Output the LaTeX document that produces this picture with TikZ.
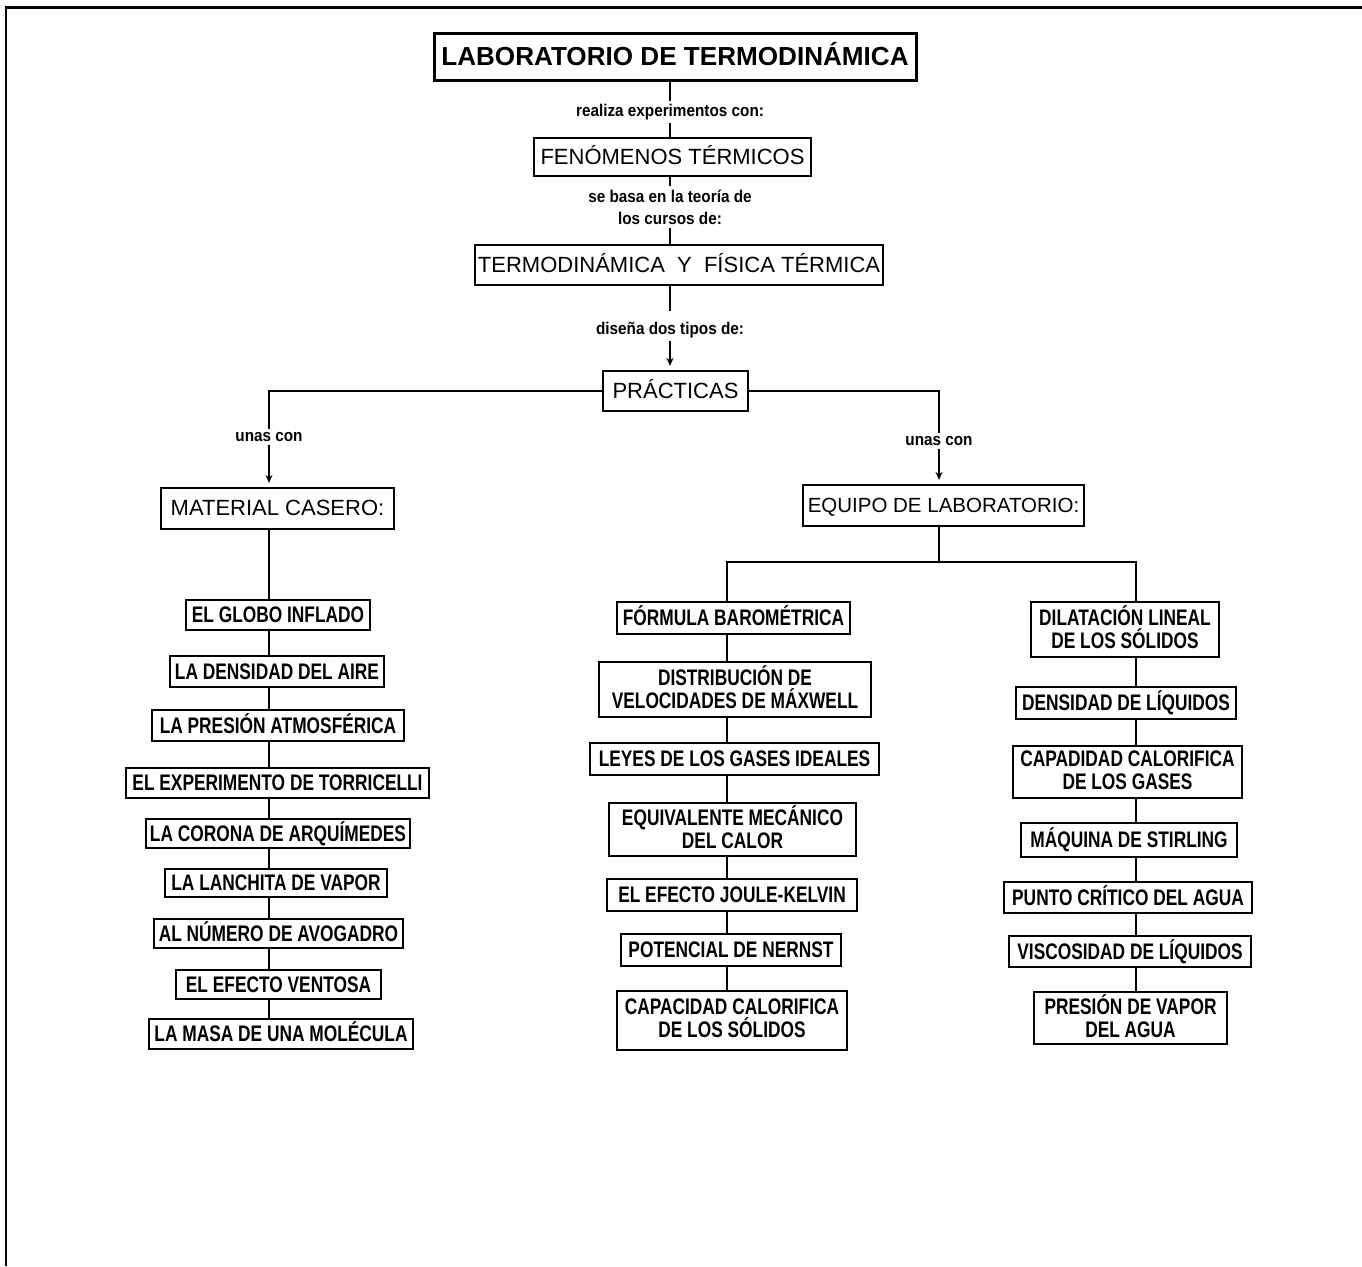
\documentclass[tikz,border=0pt]{standalone}
\usepackage{fontspec}
\setmainfont{Liberation Sans}
\newfontfamily\leaffont{Liberation Sans}[FakeStretch=0.77]
\newfontfamily\tagfont{Liberation Sans}[FakeStretch=0.9]
\usetikzlibrary{arrows.meta}

\begin{document}
\begin{tikzpicture}[x=1pt, y=-1pt,
    box/.style={draw, fill=white, line width=2.2pt, inner sep=2pt, align=center,
                execute at begin node=\vphantom{Áy}},
    big/.style={box, font=\fontsize{22}{26}\selectfont},
    leaf/.style={box, line width=2pt, font=\leaffont\bfseries\fontsize{22.5}{23}\selectfont},
    tag/.style={inner sep=3pt, align=center, font=\tagfont\bfseries\fontsize{17}{22}\selectfont},
    edge/.style={line width=1.2pt},
    arrow/.style={edge, -{Stealth[length=8pt, width=7pt]}, shorten >=4pt}]

\useasboundingbox (0,0) rectangle (1362,1266);

% frame
\draw[line width=2.5pt] (6,1266) -- (6,7.5) -- (1362,7.5);

% Top chain
\node[box, line width=3pt, minimum width=482pt, minimum height=47pt,
      font=\bfseries\fontsize{26.1}{30}\selectfont] (lab) at (675,56.5) {LABORATORIO DE TERMODINÁMICA};
\node[big, minimum width=277pt, minimum height=38pt] (fen) at (672.5,157) {FENÓMENOS TÉRMICOS};
\node[big, minimum width=408pt, minimum height=40pt] (teo) at (679,265) {TERMODINÁMICA~~Y~~FÍSICA TÉRMICA};
\node[big, minimum width=145pt, minimum height=40pt] (prac) at (675.5,391) {PRÁCTICAS};
\node[big, minimum width=233pt, minimum height=41pt] (mat) at (277.5,508.5) {MATERIAL CASERO:};
\node[big, minimum width=281pt, minimum height=41pt,
      font=\fontsize{20.5}{24}\selectfont] (equ) at (943.5,505.5) {EQUIPO DE LABORATORIO:};

% Link words
\node[tag] (t1) at (670,112) {realiza experimentos con:};
\node[tag] (t2) at (670,207) {se basa en la teoría de\\los cursos de:};
\node[tag] (t3) at (670,330) {diseña dos tipos de:};
\node[tag] (u1) at (269,437) {unas con};
\node[tag] (u2) at (939,441) {unas con};

\draw[edge] (t1 |- lab.south) -- (t1);
\draw[edge] (t1) -- (t1 |- fen.north);
\draw[edge] (t2 |- fen.south) -- (t2);
\draw[edge] (t2) -- (t2 |- teo.north);
\draw[edge, shorten >=8pt] (t3 |- teo.south) -- (t3);
\draw[arrow] (t3) -- (t3 |- prac.north);

% Two branches
\draw[edge] (prac.west) -| (u1);
\draw[edge] (prac.east) -| (u2);
\draw[arrow] (u1) -- (u1 |- mat.north);
\draw[arrow] (u2) -- (u2 |- equ.north);

\coordinate (fork) at (939,562);
\coordinate (colB) at (727,562);
\coordinate (colC) at (1136,562);

% Material casero
\foreach \n/\x/\y/\w/\h/\t in {
    m1/278/615/184/30/{EL GLOBO INFLADO},
    m2/277/671.5/214/31/{LA DENSIDAD DEL AIRE},
    m3/278/725.5/252/31/{LA PRESIÓN ATMOSFÉRICA},
    m4/277.5/783/303/30/{EL EXPERIMENTO DE TORRICELLI},
    m5/278/833.5/264/29/{LA CORONA DE ARQUÍMEDES},
    m6/276/883/222/27/{LA LANCHITA DE VAPOR},
    m7/278.5/933.5/249/27/{AL NÚMERO DE AVOGADRO},
    m8/278.5/984.5/205/29/{EL EFECTO VENTOSA},
    m9/281/1034/264/30/{LA MASA DE UNA MOLÉCULA}}
  \node[leaf, minimum width=\w pt, minimum height=\h pt] (\n) at (\x,\y) {\t};

% Equipo de laboratorio
\foreach \n/\x/\y/\w/\h/\t in {
    c1/733.5/618/233/32/{FÓRMULA BAROMÉTRICA},
    c2/735/689.5/272/55/{DISTRIBUCIÓN DE\\VELOCIDADES DE MÁXWELL},
    c3/734.5/759/289/32/{LEYES DE LOS GASES IDEALES},
    c4/732.5/829.5/247/53/{EQUIVALENTE MECÁNICO\\DEL CALOR},
    c5/732/895/250/32/{EL EFECTO JOULE-KELVIN},
    c6/731/950/220/32/{POTENCIAL DE NERNST},
    c7/732/1020.5/230/59/{CAPACIDAD CALORIFICA\\DE LOS SÓLIDOS},
    d1/1125/629.5/188/55/{DILATACIÓN LINEAL\\DE LOS SÓLIDOS},
    d2/1126/703/220/32/{DENSIDAD DE LÍQUIDOS},
    d3/1127.5/772/229/52/{CAPADIDAD CALORIFICA\\DE LOS GASES},
    d4/1129/840/216/34/{MÁQUINA DE STIRLING},
    d5/1128/897.5/248/31/{PUNTO CRÍTICO DEL AGUA},
    d6/1130/951.5/242/31/{VISCOSIDAD DE LÍQUIDOS},
    d7/1130.5/1018/193/52/{PRESIÓN DE VAPOR\\DEL AGUA}}
  \node[leaf, minimum width=\w pt, minimum height=\h pt] (\n) at (\x,\y) {\t};

\draw[edge] (fork |- equ.south) -- (fork);
\draw[edge] (colB |- c1.north) -- (colB) -- (colC) -- (colC |- d1.north);

% Chains
\foreach \a/\b in {mat/m1, m1/m2, m2/m3, m3/m4, m4/m5, m5/m6, m6/m7, m7/m8, m8/m9}
  \draw[edge] (u1 |- \a.south) -- (u1 |- \b.north);
\foreach \a/\b in {c1/c2, c2/c3, c3/c4, c4/c5, c5/c6, c6/c7}
  \draw[edge] (colB |- \a.south) -- (colB |- \b.north);
\foreach \a/\b in {d1/d2, d2/d3, d3/d4, d4/d5, d5/d6, d6/d7}
  \draw[edge] (colC |- \a.south) -- (colC |- \b.north);

\end{tikzpicture}
\end{document}
